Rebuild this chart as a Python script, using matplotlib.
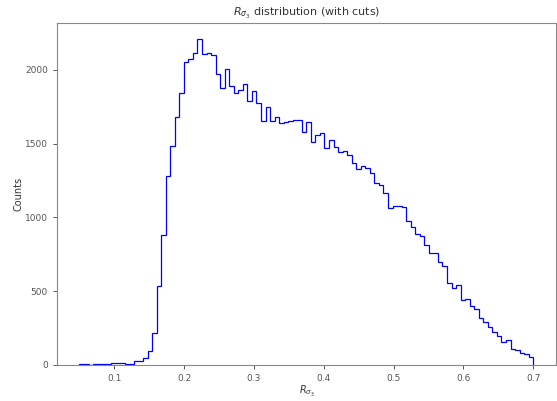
import numpy as np
import matplotlib.pyplot as plt

# histogram of R_sigma3, 100 bins between 0.05 and 0.7
lo, hi, nbins = 0.05, 0.7, 100
counts = [3, 3, 0, 4, 5, 4, 6, 12, 12, 12,
          3, 9, 24, 26, 45, 97, 216, 537, 884, 1279,
          1485, 1678, 1841, 2052, 2073, 2118, 2209, 2107, 2114, 2102,
          1971, 1880, 2007, 1893, 1846, 1864, 1902, 1789, 1859, 1773,
          1655, 1746, 1655, 1682, 1642, 1648, 1653, 1664, 1658, 1576,
          1644, 1512, 1562, 1573, 1471, 1528, 1478, 1444, 1449, 1422,
          1369, 1327, 1347, 1338, 1301, 1236, 1222, 1168, 1066, 1080,
          1078, 1072, 973, 934, 886, 871, 814, 760, 760, 699,
          673, 556, 524, 540, 440, 447, 401, 379, 315, 288,
          254, 224, 193, 156, 172, 111, 104, 84, 77, 56]

edges = np.linspace(lo, hi, nbins + 1)
centers = 0.5 * (edges[:-1] + edges[1:])

fig = plt.figure(figsize=(5.57, 4.01), dpi=100)
ax = fig.add_axes([0.102, 0.090, 0.896, 0.853])
ax.hist(centers, bins=edges, weights=counts, histtype='step', color='blue', linewidth=0.9)

ax.set_title(r"$R_{\sigma_3}$ distribution (with cuts)", size=8, color='#333333', pad=5)
ax.set_xlabel(r"$R_{\sigma_3}$", size=7, color='#333333', labelpad=1)
ax.set_ylabel("Counts", size=7, color='#333333', labelpad=1)
ax.set_xticks([0.1, 0.2, 0.3, 0.4, 0.5, 0.6, 0.7])
ax.set_yticks([0, 500, 1000, 1500, 2000])
ax.tick_params(labelsize=6.5, colors='#555555', length=3, width=0.7)
for s in ax.spines.values():
    s.set_color('#888888')
    s.set_linewidth(0.8)

plt.savefig("out.png", dpi=100)
